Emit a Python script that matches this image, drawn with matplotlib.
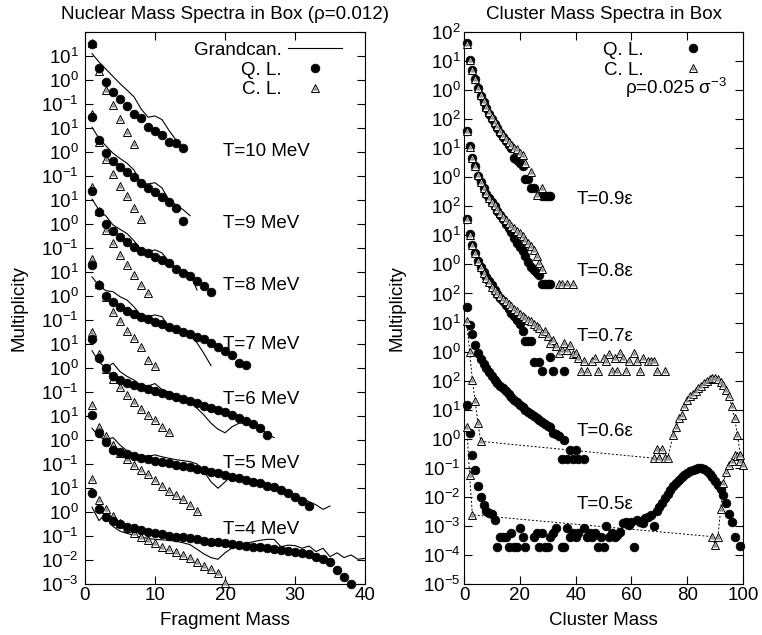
"""Nuclear and cluster mass spectra in a box, stacked by temperature."""

import numpy as np
import matplotlib

matplotlib.use("Agg")
import matplotlib.pyplot as plt
from matplotlib.lines import Line2D
from matplotlib.ticker import FixedLocator, NullLocator

plt.rcParams["font.family"] = ["Liberation Sans", "DejaVu Sans"]
plt.rcParams["mathtext.fontset"] = "custom"
plt.rcParams["mathtext.rm"] = "Liberation Sans"
plt.rcParams["mathtext.it"] = "Liberation Sans:italic"
plt.rcParams["mathtext.default"] = "regular"
FS = 13.5

# ---- left panel: log10 multiplicity vs fragment mass (mass = 1, 2, 3, ...) ----
NUC_TEMPS = [4, 5, 6, 7, 8, 9, 10]
NUC_LABELS = ["T=4 MeV", "T=5 MeV", "T=6 MeV", "T=7 MeV", "T=8 MeV", "T=9 MeV", "T=10 MeV"]
NUC_SHIFT = [0, 3, 6, 9, 12, 15, 18]          # decades each block is moved up
NUC_LABEL_POS = [-0.71, 2.04, 4.67, 6.96, 9.42, 12.04, 15.0]

nuc_ql = {
    4: [0.78, 0.13, -0.20, -0.38, -0.51, -0.61, -0.68, -0.75, -0.82, -0.89,
        -0.93, -0.99, -1.03, -1.06, -1.10, -1.14, -1.20, -1.24, -1.26, -1.31,
        -1.33, -1.38, -1.40, -1.44, -1.47, -1.51, -1.54, -1.58, -1.61, -1.65,
        -1.72, -1.76, -1.86, -1.96, -2.10, -2.42, -2.72, -3.00],
    5: [1.04, 0.28, -0.10, -0.40, -0.49, -0.60, -0.67, -0.74, -0.80, -0.86,
        -0.92, -0.97, -1.04, -1.08, -1.14, -1.20, -1.25, -1.32, -1.39, -1.46,
        -1.53, -1.60, -1.67, -1.74, -1.80, -1.92, -1.97, -2.08, -2.22, -2.36,
        -2.54, -2.75],
    6: [1.20, 0.40, -0.01, -0.33, -0.50, -0.61, -0.71, -0.81, -0.88, -0.95,
        -1.03, -1.13, -1.20, -1.29, -1.38, -1.47, -1.57, -1.65, -1.75, -1.85,
        -1.96, -2.10, -2.21, -2.33, -2.51, -2.79],
    7: [1.29, 0.46, 0.00, -0.24, -0.45, -0.63, -0.76, -0.86, -0.97, -1.07,
        -1.17, -1.28, -1.39, -1.49, -1.60, -1.70, -1.80, -1.94, -2.11, -2.29,
        -2.46, -2.80, -2.88],
    8: [1.38, 0.49, 0.00, -0.28, -0.53, -0.74, -0.95, -1.11, -1.22, -1.36,
        -1.50, -1.64, -1.88, -2.03, -2.17, -2.36, -2.58, -2.82],
    9: [1.44, 0.50, -0.03, -0.38, -0.64, -0.82, -1.05, -1.28, -1.49, -1.68,
        -1.86, -2.07, -2.35, -2.86],
    10: [1.50, 0.49, -0.10, -0.49, -0.80, -1.08, -1.42, -1.60, -1.95, -2.11,
         -2.29, -2.57, -2.61, -2.85],
}
nuc_cl = {
    4: [1.37, 0.50, 0.12, -0.17, -0.45, -0.65, -0.87, -1.04, -1.17, -1.28,
        -1.45, -1.55, -1.65, -1.79, -1.93, -2.07, -2.24, -2.39, -2.55, -2.97],
    5: [1.46, 0.56, 0.18, -0.20, -0.55, -0.78, -1.05, -1.27, -1.42, -1.67,
        -1.90, -2.12, -2.29, -2.45, -2.72, -2.95],
    6: [1.51, 0.58, -0.04, -0.47, -0.80, -1.13, -1.40, -1.72, -1.96, -2.17,
        -2.45, -2.68],
    7: [1.53, 0.50, -0.05, -0.65, -1.03, -1.45, -1.76, -2.11, -2.67, -2.92],
    8: [1.55, 0.55, -0.25, -0.78, -1.29, -1.71, -2.13, -2.54, -2.86],
    9: [1.60, 0.43, -0.30, -0.92, -1.42, -1.83, -2.35, -2.80],
    10: [1.55, 0.39, -0.40, -1.04, -1.64, -2.15, -2.67],
}
nuc_gc = {
    4: [0.20, -0.36, -0.05, -0.60, -0.80, -0.89, -0.97, -1.05, -1.10, -1.14,
        -1.16, -1.18, -1.22, -1.28, -1.36, -1.55, -1.75, -1.90, -1.97, -1.70,
        -1.50, -1.38, -1.30, -1.24, -1.18, -1.14, -1.14, -1.45, -1.38, -1.40,
        -1.51, -1.42, -1.65, -1.51, -1.86, -1.70, -1.90, -1.79, -1.97, -1.93],
    5: [0.49, 0.14, 0.00, 0.10, -0.21, -0.45, -0.60, -0.65, -0.68, -0.62,
        -0.70, -0.76, -0.82, -0.86, -0.90, -1.00, -1.32, -1.74, -2.01, -1.75,
        -1.46, -1.55, -1.60, -1.68, -1.75, -1.82, -1.90, -2.02, -2.15, -2.30,
        -2.42, -2.57, -2.70, -2.89, -2.75],
    6: [0.72, 0.25, 0.00, 0.20, -0.15, -0.35, -0.50, -0.75, -0.75, -0.65,
        -0.90, -1.00, -1.10, -1.25, -1.40, -1.68, -1.96, -2.30, -2.55, -2.70,
        -2.45, -2.30, -2.30, -2.35, -2.50, -2.75, -2.90],
    7: [0.80, 0.42, 0.22, 0.18, -0.03, -0.17, -0.45, -0.80, -0.85, -0.79,
        -0.86, -1.28, -1.42, -1.50, -1.65, -1.95, -2.40, -2.90],
    8: [1.04, 0.58, 0.33, -0.04, -0.22, -0.40, -0.70, -1.08, -1.15, -1.08,
        -1.20, -1.57, -1.85, -1.95, -2.05, -2.75],
    9: [1.03, 0.57, 0.25, -0.05, -0.27, -0.47, -0.75, -1.30, -1.33, -1.28,
        -1.50, -2.00, -2.20, -2.40, -2.65],
    10: [1.10, 0.75, 0.45, 0.15, -0.15, -0.42, -0.70, -1.20, -1.55, -1.50,
         -1.65, -2.10, -2.50],
}
NUC_TICK_EXP = [-3, -2, -1, 0, 1] + [-1, 0, 1] * 6 + [None]

# ---- right panel: log10 multiplicity vs cluster mass ----
CL_TEMPS = ["0.5", "0.6", "0.7", "0.8", "0.9"]
CL_SHIFT = [0, 3, 6, 9, 12]
CL_LABEL_POS = [-2.28, 0.25, 3.53, 5.77, 8.24]

t09_ql_x = list(range(1, 26)) + [28, 29, 30, 31]
t09_ql = [1.62, 1.05, 0.70, 0.38, 0.06, -0.20, -0.42, -0.62, -0.82, -1.00,
          -1.15, -1.32, -1.48, -1.63, -1.76, -1.88, -2.00, -2.32, -2.40, -2.50,
          -2.60, -3.07, -3.07, -3.36, -3.36, -3.64, -3.64, -3.64, -3.64]
t09_cl_x = list(range(1, 23)) + [24, 26, 28]
t09_cl = [1.60, 1.04, 0.68, 0.38, 0.08, -0.17, -0.39, -0.58, -0.77, -0.94,
          -1.10, -1.25, -1.40, -1.54, -1.67, -1.80, -1.90, -1.98, -2.03, -2.15,
          -2.24, -2.50, -2.82, -3.61, -3.36]

t08_ql_x = list(range(1, 32))
t08_ql = [1.60, 1.06, 0.68, 0.39, 0.06, -0.18, -0.38, -0.56, -0.72, -0.86,
          -1.00, -1.15, -1.30, -1.45, -1.60, -1.75, -1.90, -2.10, -2.25, -2.40,
          -2.55, -2.70, -2.90, -3.10, -3.20, -3.30, -3.35, -3.69, -3.69, -3.69,
          -3.69]
t08_cl_x = list(range(1, 29)) + [34, 35, 37, 39]
t08_cl = [1.58, 1.04, 0.67, 0.38, 0.07, -0.16, -0.36, -0.54, -0.70, -0.84,
          -0.97, -1.10, -1.23, -1.36, -1.48, -1.58, -1.68, -1.76, -1.85, -1.93,
          -2.02, -2.15, -2.25, -2.35, -2.50, -2.70, -2.94, -3.17,
          -3.69, -3.69, -3.69, -3.69]

t07_ql_x = list(range(1, 26)) + [27, 28, 31, 32, 36]
t07_ql = [1.55, 1.03, 0.66, 0.40, 0.11, -0.08, -0.25, -0.42, -0.58, -0.72,
          -0.88, -1.02, -1.15, -1.26, -1.40, -1.53, -1.66, -1.78, -1.92, -2.06,
          -2.30, -2.64, -2.64, -2.64, -3.36, -3.36, -3.68, -3.19, -3.68, -3.68]
t07_cl_x = list(range(1, 45)) + [46, 47, 48, 50, 51, 52, 53, 54, 55, 56, 57,
                                 58, 59, 61, 62, 63, 64, 66, 67, 68, 69, 72]
t07_cl = [1.55, 1.02, 0.66, 0.40, 0.12, -0.10, -0.30, -0.47, -0.62, -0.76,
          -0.88, -0.98, -1.08, -1.18, -1.27, -1.36, -1.44, -1.53, -1.62, -1.70,
          -1.78, -1.84, -1.90, -1.95, -2.05, -2.12, -2.18, -2.36, -2.30, -2.47,
          -2.70, -2.60, -2.82, -3.05, -2.95, -2.70, -2.93, -2.76, -3.10, -3.05,
          -3.22, -3.68, -3.33, -3.68,
          -3.33, -3.22, -3.68, -3.22, -3.33, -3.10, -3.68, -3.22, -3.68, -3.05,
          -3.22, -3.68, -3.33, -3.05, -3.33, -3.68, -3.22, -3.33, -3.33, -3.33,
          -3.68, -3.68]

t06_ql_x = list(range(1, 42)) + [43]
t06_ql = [1.54, 0.93, 0.59, 0.24, -0.05, -0.25, -0.42, -0.58, -0.72, -0.85,
          -0.97, -1.08, -1.18, -1.27, -1.35, -1.45, -1.55, -1.65, -1.74, -1.83,
          -1.92, -2.00, -2.08, -2.16, -2.23, -2.30, -2.37, -2.44, -2.50, -2.55,
          -2.60, -2.80, -2.85, -2.92, -3.69, -3.05, -3.69, -3.38, -3.69, -3.38,
          -3.69, -3.69]
t06_cl_x = [1, 2, 3, 4, 5, 6, 68, 69, 70, 71, 72, 73] + list(range(75, 100))
t06_cl = [1.04, 0.00, -0.97, -1.71, -2.46, -3.09,
          -3.67, -3.36, -3.67, -3.36, -3.67, -3.67,
          -2.86, -2.58, -2.30, -2.17, -1.89, -1.66, -1.54, -1.45, -1.37, -1.25,
          -1.18, -1.08, -1.00, -0.94, -0.92, -0.92, -0.96, -1.04, -1.15, -1.31,
          -1.54, -1.89, -2.29, -2.86, -3.55]

t05_ql_x = (list(range(1, 23))
            + [25, 26, 27, 28, 29, 30, 31, 32, 33, 35, 36, 37, 38, 39, 40, 41,
               43, 44, 45, 46, 47, 48, 49, 50, 51, 52, 53, 54, 55]
            + list(range(56, 98)) + [99])
t05_ql = [1.17, 0.20, -0.55, -1.07, -1.64, -2.00, -2.28, -2.50, -2.56, -2.60,
          -2.79, -3.71, -3.37, -3.37, -3.37, -3.71, -3.23, -3.71, -3.71, -3.06,
          -3.37, -3.71,
          -3.37, -3.23, -3.71, -3.23, -3.71, -3.71, -3.37, -3.23, -3.06, -3.71,
          -3.71, -3.06, -3.37, -3.23, -3.37, -3.23, -3.06, -3.37, -3.23, -3.37,
          -3.23, -3.71, -3.37, -3.71, -3.00, -3.37, -3.23, -3.37, -3.30,
          -3.20, -2.90, -2.85, -2.97, -2.85, -3.71, -2.79, -2.85, -2.91, -2.73,
          -2.68, -2.62, -3.00, -2.50, -2.35, -2.20, -2.05, -1.90, -1.75, -1.62,
          -1.52, -1.42, -1.33, -1.25, -1.18, -1.12, -1.06, -1.03, -1.01, -1.01,
          -1.05, -1.12, -1.22, -1.33, -1.45, -1.59, -1.74, -1.95, -2.22, -2.59,
          -2.85, -3.37, -3.69]
t05_cl_x = [1, 2, 3, 89, 90, 91, 92, 93, 94, 95, 96, 97, 98, 99, 100]
t05_cl = [0.40, -1.24, -2.62, -3.37, -3.66, -3.37, -2.42, -1.53, -1.13, -0.90,
          -0.75, -0.55, -0.60, -0.75, -0.90]

clu_ql = {"0.5": (t05_ql_x, t05_ql), "0.6": (t06_ql_x, t06_ql),
          "0.7": (t07_ql_x, t07_ql), "0.8": (t08_ql_x, t08_ql),
          "0.9": (t09_ql_x, t09_ql)}
clu_cl = {"0.5": (t05_cl_x, t05_cl), "0.6": (t06_cl_x, t06_cl),
          "0.7": (t07_cl_x, t07_cl), "0.8": (t08_cl_x, t08_cl),
          "0.9": (t09_cl_x, t09_cl)}
CLU_TICK_EXP = [-5, -4, -3, -2, -1, 0, 1, 2] + [0, 1, 2] * 4

QL_STYLE = dict(ls="none", marker="o", ms=6.3, mfc="black", mec="black", mew=0.5)
# gnuplot-like triangle: white outline triangle with a small grey one inside
CL_OUTER = dict(ls="none", marker="^", ms=5.6, mfc="white", mec="black", mew=0.7)
CL_INNER = dict(ls="none", marker="^", ms=3.0, mfc="#8c8c8c", mec="none")


def decade_labels(exps):
    return ["" if e is None else r"$10^{%d}$" % e for e in exps]


def plot_triangles(ax, x, y, zorder):
    ax.plot(x, y, clip_on=False, zorder=zorder, **CL_OUTER)
    ax.plot(x, y, clip_on=False, zorder=zorder, **CL_INNER)


def style_axes(ax, xticks, xlim, ylo, hi, tick_exp, ypad):
    ax.set_xlim(*xlim)
    ax.set_yscale("log")
    ax.set_ylim(10.0 ** ylo, 10.0 ** hi)
    ax.set_xticks(xticks)
    ax.yaxis.set_major_locator(FixedLocator(10.0 ** np.arange(ylo, ylo + len(tick_exp))))
    ax.yaxis.set_minor_locator(NullLocator())
    ax.set_yticklabels(decade_labels(tick_exp))
    ax.tick_params(which="both", direction="in", top=True, right=True,
                   length=6, width=0.8, labelsize=FS)
    ax.tick_params(axis="x", pad=2.5)
    ax.tick_params(axis="y", pad=ypad)
    for spine in ax.spines.values():
        spine.set_linewidth(0.8)


fig = plt.figure(figsize=(7.62, 6.35), dpi=100)
ax1 = fig.add_axes([85 / 762, 51 / 635, 280 / 762, 552 / 635])
ax2 = fig.add_axes([464 / 762, 51 / 635, 279 / 762, 552 / 635])

tri_handle = (Line2D([], [], **CL_OUTER), Line2D([], [], **CL_INNER))

# left panel
for temp, shift, label, ypos in zip(NUC_TEMPS, NUC_SHIFT, NUC_LABELS, NUC_LABEL_POS):
    gc = np.asarray(nuc_gc[temp])
    cl = np.asarray(nuc_cl[temp])
    ql = np.asarray(nuc_ql[temp])
    ax1.plot(np.arange(1, gc.size + 1), 10.0 ** (gc + shift), color="black", lw=0.8, zorder=2)
    plot_triangles(ax1, np.arange(1, cl.size + 1), 10.0 ** (cl + shift), 3)
    ax1.plot(np.arange(1, ql.size + 1), 10.0 ** (ql + shift), clip_on=False,
             zorder=4, **QL_STYLE)
    ax1.text(19.7, 10.0 ** ypos, label, fontsize=FS, ha="left", va="center")

style_axes(ax1, [0, 10, 20, 30, 40], (0, 40), -3, 20, NUC_TICK_EXP, 4.5)
ax1.set_title("Nuclear Mass Spectra in Box (\u03c1=0.012)", fontsize=FS, pad=9.5)
ax1.set_xlabel("Fragment Mass", fontsize=FS)
ax1.set_ylabel("Multiplicity", fontsize=FS)
ax1.xaxis.set_label_coords(0.5, -0.05)
ax1.yaxis.set_label_coords(-0.204, 0.5)
ax1.legend(
    [Line2D([], [], color="black", lw=0.8), Line2D([], [], **QL_STYLE), tri_handle],
    ["Grandcan.", "Q. L.", "C. L."],
    loc="upper right", bbox_to_anchor=(0.918, 0.982), frameon=False,
    markerfirst=False, handlelength=2.9, handletextpad=0.3, labelspacing=0.13,
    borderpad=0, borderaxespad=0, fontsize=FS, numpoints=1)

# right panel
for temp, shift, ypos in zip(CL_TEMPS, CL_SHIFT, CL_LABEL_POS):
    qx, qv = clu_ql[temp]
    cx, cv = clu_cl[temp]
    cy = 10.0 ** (np.asarray(cv) + shift)
    ax2.plot(qx, 10.0 ** (np.asarray(qv) + shift), clip_on=False, zorder=3, **QL_STYLE)
    if temp in ("0.5", "0.6"):
        ax2.plot(cx, cy, color="black", lw=0.7, ls=(0, (2, 2)), zorder=3.5)
    plot_triangles(ax2, cx, cy, 4)
    ax2.text(40.5, 10.0 ** ypos, "T=%s\u03b5" % temp, fontsize=FS, ha="left", va="center")

style_axes(ax2, [0, 20, 40, 60, 80, 100], (0, 100), -5, 14, CLU_TICK_EXP, 2.5)
ax2.set_title("Cluster Mass Spectra in Box", fontsize=FS, pad=9.5)
ax2.set_xlabel("Cluster Mass", fontsize=FS)
ax2.set_ylabel("Multiplicity", fontsize=FS)
ax2.xaxis.set_label_coords(0.5, -0.05)
ax2.yaxis.set_label_coords(-0.211, 0.5)
ax2.legend(
    [Line2D([], [], **QL_STYLE), tri_handle],
    ["Q. L.", "C. L."],
    loc="upper right", bbox_to_anchor=(0.982, 0.982), frameon=False,
    markerfirst=False, handlelength=4.8, handletextpad=0.25, labelspacing=0.13,
    borderpad=0, borderaxespad=0, fontsize=FS, numpoints=1)
ax2.text(0.943, 0.899, "\u03c1=0.025 \u03c3$^{-3}$", transform=ax2.transAxes,
         fontsize=FS, ha="right", va="center")

fig.savefig("out.png", dpi=100)
plt.close(fig)
